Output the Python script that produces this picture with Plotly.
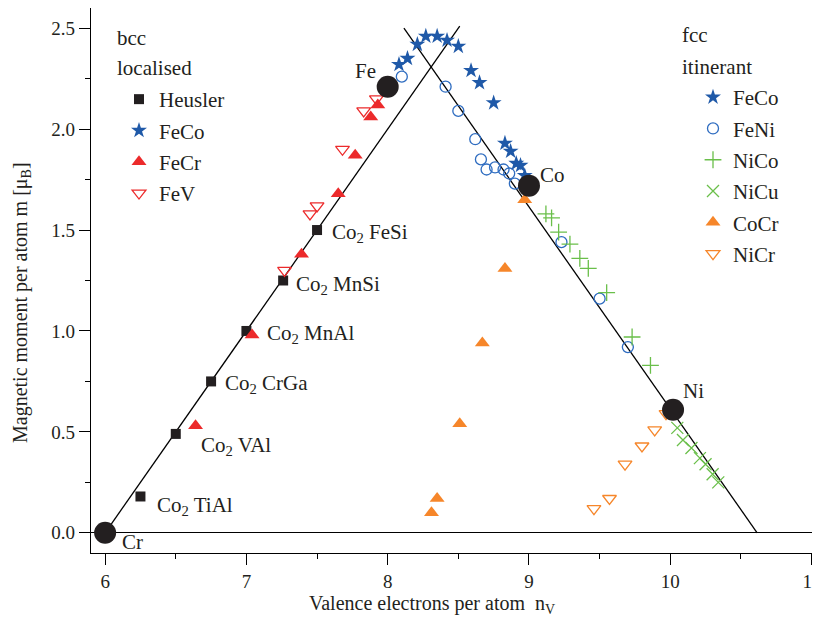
import plotly.graph_objects as go

# ---------------- data ----------------
heusler_x = [6.25, 6.50, 6.75, 7.00, 7.26, 7.50]
heusler_y = [0.18, 0.49, 0.75, 1.00, 1.25, 1.50]
heusler_names = ["Co<sub>2</sub> TiAl", "Co<sub>2</sub> VAl", "Co<sub>2</sub> CrGa",
                 "Co<sub>2</sub> MnAl", "Co<sub>2</sub> MnSi", "Co<sub>2</sub> FeSi"]
heusler_label_dx = [15, 23, 12, 19, 11, 13]
heusler_label_dy = [-10, -12, -3, -3, -4, -3]

fecr_x = [6.64, 7.04, 7.39, 7.65, 7.77, 7.88, 7.93]
fecr_y = [0.53, 0.98, 1.38, 1.68, 1.87, 2.06, 2.12]

fev_x = [7.27, 7.45, 7.50, 7.68, 7.83, 7.92]
fev_y = [1.30, 1.58, 1.62, 1.90, 2.09, 2.15]

feco_bcc_x = [8.08, 8.14, 8.21, 8.27, 8.35, 8.42, 8.50, 8.59, 8.65]
feco_bcc_y = [2.32, 2.35, 2.42, 2.46, 2.46, 2.44, 2.41, 2.29, 2.23]

feco_fcc_x = [8.75, 8.83, 8.87, 8.91, 8.94, 8.97]
feco_fcc_y = [2.13, 1.93, 1.89, 1.83, 1.82, 1.77]

feni_x = [8.10, 8.41, 8.50, 8.62, 8.66, 8.70, 8.76, 8.82, 8.86, 8.90, 9.23, 9.50, 9.70]
feni_y = [2.26, 2.21, 2.09, 1.95, 1.85, 1.80, 1.81, 1.80, 1.78, 1.73, 1.44, 1.16, 0.92]

nico_x = [9.12, 9.16, 9.21, 9.29, 9.36, 9.42, 9.55, 9.73, 9.86]
nico_y = [1.58, 1.56, 1.49, 1.43, 1.36, 1.31, 1.19, 0.97, 0.83]

nicu_x = [10.05, 10.09, 10.15, 10.21, 10.25, 10.30, 10.34]
nicu_y = [0.52, 0.46, 0.42, 0.37, 0.34, 0.29, 0.25]

cocr_x = [8.31, 8.35, 8.51, 8.67, 8.83, 8.97]
cocr_y = [0.10, 0.17, 0.54, 0.94, 1.31, 1.65]

nicr_x = [9.46, 9.57, 9.68, 9.80, 9.89, 9.97]
nicr_y = [0.12, 0.17, 0.34, 0.43, 0.51, 0.59]

elem_names = ["Cr", "Fe", "Co", "Ni"]
elem_x = [6.00, 8.00, 9.00, 10.02]
elem_y = [0.00, 2.21, 1.72, 0.61]
elem_label_dx = [27, -22, 24, 20]
elem_label_dy = [-9, 16, 11, 19]

sp_left_x = [6.00, 8.51]
sp_left_y = [0.00, 2.51]
sp_right_x = [8.115, 10.615]
sp_right_y = [2.50, 0.00]

x_title = "Valence electrons per atom  n<sub>V</sub>"
y_title = "Magnetic moment per atom m [μ<sub>B</sub>]"

# ---------------- style ----------------
FONT = "Liberation Serif"
TXT = "#231f20"
BLACK = "#231f20"
BLUE = "#1f59a8"
BLUE2 = "#2e6cc0"
RED = "#ec2a2b"
GREEN = "#6abf4a"
ORANGE = "#f6862a"
FS = 21

# the page places the figure 8 px from its top-left corner
OFF = 8
W, H = 820 - OFF, 620 - OFF
L, R, T, B = 91 - OFF, 0, 0, 67
PW, PH = W - L - R, H - T - B

def px2paper(px, py):
    """page pixel -> paper coordinates"""
    fx, fy = px - OFF, py - OFF
    return (fx - L) / PW, (H - B - fy) / PH

fig = go.Figure()

# Slater-Pauling lines
for lx, ly in [(sp_left_x, sp_left_y), (sp_right_x, sp_right_y)]:
    fig.add_trace(go.Scatter(x=lx, y=ly, mode="lines",
                             line=dict(color="black", width=1.3),
                             showlegend=False, hoverinfo="skip"))

def add(x, y, name, symbol, color, size, legend, group, lw=1.3):
    fig.add_trace(go.Scatter(
        x=x, y=y, mode="markers", name=name, legend=legend, legendgroup=group,
        marker=dict(symbol=symbol, color=color, size=size,
                    line=dict(color=color, width=lw))))

# bcc / localised
add(heusler_x, heusler_y, "Heusler", "square", BLACK, 10, "legend", "g1", 0)
add(feco_bcc_x, feco_bcc_y, "FeCo", "star", BLUE, 12, "legend", "g2", 0)
add(fecr_x, fecr_y, "FeCr", "triangle-up", RED, 13, "legend", "g3", 0)
add(fev_x, fev_y, "FeV", "triangle-down-open", RED, 12, "legend", "g4")

# fcc / itinerant
add(feco_fcc_x, feco_fcc_y, "FeCo", "star", BLUE, 12, "legend2", "h1", 0)
add(feni_x, feni_y, "FeNi", "circle-open", BLUE2, 11, "legend2", "h2")
add(nico_x, nico_y, "NiCo", "cross-thin-open", GREEN, 12, "legend2", "h3")
add(nicu_x, nicu_y, "NiCu", "x-thin-open", GREEN, 12, "legend2", "h4")
add(cocr_x, cocr_y, "CoCr", "triangle-up", ORANGE, 13, "legend2", "h5", 0)
add(nicr_x, nicr_y, "NiCr", "triangle-down-open", ORANGE, 12, "legend2", "h6")

# elements
fig.add_trace(go.Scatter(x=elem_x, y=elem_y, mode="markers", showlegend=False,
                         marker=dict(symbol="circle", color=BLACK, size=22,
                                     line=dict(width=0))))

annotations = []
for nm, x, y, dx, dy in zip(heusler_names, heusler_x, heusler_y, heusler_label_dx, heusler_label_dy):
    annotations.append(dict(x=x, y=y, xref="x", yref="y", text=nm, showarrow=False,
                            xanchor="left", yanchor="middle", xshift=dx, yshift=dy,
                            font=dict(family=FONT, size=FS, color=TXT)))
for nm, x, y, dx, dy in zip(elem_names, elem_x, elem_y, elem_label_dx, elem_label_dy):
    annotations.append(dict(x=x, y=y, xref="x", yref="y", text=nm, showarrow=False,
                            xanchor="center", yanchor="middle", xshift=dx, yshift=dy,
                            font=dict(family=FONT, size=FS, color=TXT)))
for txt, px, py in [("bcc", 115, 38), ("localised", 115, 68),
                    ("fcc", 680, 35), ("itinerant", 680, 67)]:
    ax, ay = px2paper(px, py)
    annotations.append(dict(x=ax, y=ay, xref="paper", yref="paper",
                            text=txt, showarrow=False, xanchor="left", yanchor="middle",
                            font=dict(family=FONT, size=FS, color=TXT)))
# axis titles
ax, ay = px2paper(432, 604)
annotations.append(dict(x=ax, y=ay, xref="paper", yref="paper", text=x_title, showarrow=False,
                        xanchor="center", yanchor="middle",
                        font=dict(family=FONT, size=20, color=TXT)))
ax, ay = px2paper(21, 303)
annotations.append(dict(x=ax, y=ay, xref="paper", yref="paper", text=y_title, showarrow=False,
                        xanchor="center", yanchor="middle", textangle=-90,
                        font=dict(family=FONT, size=20, color=TXT)))

legend_common = dict(font=dict(family=FONT, size=FS, color=TXT), bgcolor="rgba(0,0,0,0)",
                     traceorder="grouped", tracegroupgap=1, xanchor="left", yanchor="top",
                     itemclick=False, itemdoubleclick=False)
lx1, ly1 = px2paper(119, 79)
lx2, ly2 = px2paper(693, 77)

axis_common = dict(showgrid=False, showline=True, linecolor="black", linewidth=1.3,
                   ticks="outside", ticklen=11, tickwidth=1.2, tickcolor="black",
                   tickfont=dict(family=FONT, size=19, color=TXT), automargin=False,
                   ticklabeloverflow="allow")

fig.update_layout(
    width=W, height=H,
    margin=dict(l=L, r=R, t=T, b=B),
    plot_bgcolor="white", paper_bgcolor="white",
    font=dict(family=FONT, size=FS, color=TXT),
    annotations=annotations,
    legend=dict(x=lx1, y=ly1, **legend_common),
    legend2=dict(x=lx2, y=ly2, **legend_common),
    xaxis=dict(range=[5.9, 11.06], dtick=1, tick0=6, zeroline=False,
               minor=dict(dtick=0.5, ticks="outside", ticklen=5, tickwidth=1.2, tickcolor="black"),
               **axis_common),
    yaxis=dict(range=[-0.1, 2.6], dtick=0.5, tick0=0, tickformat=".1f",
               zeroline=True, zerolinecolor="black", zerolinewidth=1.3,
               minor=dict(dtick=0.25, ticks="outside", ticklen=5, tickwidth=1.2, tickcolor="black"),
               **axis_common),
)

fig.write_html("out.html")
